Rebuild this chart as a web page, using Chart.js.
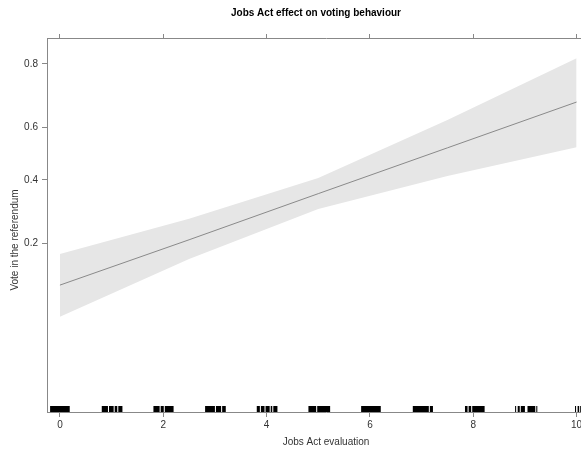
<!DOCTYPE html>
<html>
<head>
<meta charset="utf-8">
<script src="https://cdn.jsdelivr.net/npm/chart.js@4"></script>
<style>
  html, body { margin: 0; padding: 0; background: #fff; overflow: hidden; }
  #wrap { width: 632px; height: 450px; }
</style>
</head>
<body>
<div id="wrap"><canvas id="c" width="632" height="450"></canvas></div>
<script>
// ---- data ----
const xLevels   = [0, 2.5, 5, 7.5, 10];
const fitProb   = [0.116, 0.209, 0.350, 0.522, 0.689];
const lowerProb = [0.0745, 0.164, 0.298, 0.414, 0.524];
const upperProb = [0.175, 0.268, 0.407, 0.627, 0.813];
const yTickLabels = [0.2, 0.4, 0.6, 0.8];
const xTickLabels = [0, 2, 4, 6, 8, 10];
// rug: runs of observations (start, end) along the x axis
const rugRuns = [
  [-0.19, 0.19],
  [0.81, 0.93], [0.95, 1.04], [1.06, 1.11], [1.13, 1.21],
  [1.81, 1.93], [1.95, 2.01], [2.03, 2.20],
  [2.81, 3.00], [3.02, 3.12], [3.14, 3.21],
  [3.81, 3.87], [3.89, 3.96], [3.98, 4.06], [4.08, 4.11], [4.13, 4.21],
  [4.81, 4.96], [4.98, 5.23],
  [5.83, 6.21],
  [6.83, 7.14], [7.16, 7.22],
  [7.84, 7.89], [7.91, 7.96], [7.98, 8.22],
  [8.81, 8.83], [8.86, 8.90], [8.92, 9.00], [9.05, 9.20], [9.22, 9.24],
  [9.92, 9.93], [9.97, 9.99], [10.02, 10.05], [10.07, 10.09]
];
const titleText = 'Jobs Act effect on voting behaviour';
const xTitleText = 'Jobs Act evaluation';
const yTitleText = 'Vote in the referendum';

const logit = p => Math.log(p / (1 - p));
const Y_MIN = -3.99, Y_MAX = 1.784;
const X_MIN = -0.25, X_MAX = 10.55;
const rugY = Y_MIN + (3 / 374) * (Y_MAX - Y_MIN);

const pts = arr => xLevels.map((x, i) => ({ x: x, y: logit(arr[i]) }));
const rugData = [];
rugRuns.forEach(r => {
  rugData.push({ x: r[0], y: rugY });
  rugData.push({ x: r[1], y: rugY });
  rugData.push({ x: (r[1] + r[0]) / 2, y: null });
});

const FONT = "'Liberation Sans', Arial, Helvetica, sans-serif";
const AXIS = '#888888';
const xTicksFn = s => { s.ticks = xTickLabels.map(v => ({ value: v })); };

// y-axis title drawn beside the panel, as canvas text
const yTitlePlugin = {
  id: 'yTitle',
  afterDraw(chart) {
    const ctx = chart.ctx;
    ctx.save();
    ctx.translate(15, 240);
    ctx.rotate(-Math.PI / 2);
    ctx.font = "10px " + FONT;
    ctx.fillStyle = '#333';
    ctx.textAlign = 'center';
    ctx.textBaseline = 'middle';
    ctx.fillText(yTitleText, 0, 0);
    ctx.restore();
  }
};

new Chart(document.getElementById('c'), {
  type: 'line',
  data: {
    datasets: [
      { data: pts(lowerProb), borderWidth: 0, borderColor: 'rgba(0,0,0,0)', pointRadius: 0, fill: false, order: 3 },
      { data: pts(upperProb), borderWidth: 0, borderColor: 'rgba(0,0,0,0)', pointRadius: 0, fill: '-1', backgroundColor: '#e6e6e6', order: 2 },
      { data: pts(fitProb), borderWidth: 1, borderColor: '#8a8a8a', pointRadius: 0, fill: false, order: 1 },
      { data: rugData, borderWidth: 6, borderColor: '#000', borderCapStyle: 'butt', pointRadius: 0, fill: false, spanGaps: false, order: 0 }
    ]
  },
  plugins: [yTitlePlugin],
  options: {
    responsive: false,
    animation: false,
    events: [],
    layout: { padding: { left: 0, right: 0, top: 0, bottom: 0 } },
    plugins: {
      legend: { display: false },
      tooltip: { enabled: false },
      title: {
        display: true,
        text: titleText,
        color: '#000',
        font: { family: FONT, size: 10, weight: 'bold' },
        padding: { top: 7, bottom: 15 }
      }
    },
    scales: {
      x: {
        type: 'linear', position: 'bottom', min: X_MIN, max: X_MAX,
        afterBuildTicks: xTicksFn,
        afterFit: s => { s.height = 38; },
        grid: { display: true, drawOnChartArea: false, drawTicks: true, tickLength: 5, color: AXIS },
        border: { display: true, color: AXIS, width: 1 },
        ticks: { color: '#333', font: { family: FONT, size: 10 }, padding: 2, maxRotation: 0,
                 callback: v => String(v) },
        title: { display: true, text: xTitleText, color: '#333',
                 font: { family: FONT, size: 10 }, padding: { top: 2, bottom: 2 } }
      },
      x2: {
        type: 'linear', position: 'top', min: X_MIN, max: X_MAX,
        afterBuildTicks: xTicksFn,
        afterFit: s => { s.height = 4; },
        grid: { display: true, drawOnChartArea: false, drawTicks: true, tickLength: 4, color: AXIS },
        border: { display: true, color: AXIS, width: 1 },
        ticks: { display: false }
      },
      y: {
        type: 'linear', position: 'left', min: Y_MIN, max: Y_MAX,
        afterBuildTicks: s => { s.ticks = yTickLabels.map(p => ({ value: logit(p) })); },
        afterFit: s => { s.width = 47; },
        grid: { display: true, drawOnChartArea: false, drawTicks: true, tickLength: 5, color: AXIS },
        border: { display: true, color: AXIS, width: 1 },
        ticks: { color: '#333', font: { family: FONT, size: 10 }, padding: 4,
                 callback: (v, i) => String(yTickLabels[i]) }
      },
      y2: {
        type: 'linear', position: 'right', min: Y_MIN, max: Y_MAX,
        afterFit: s => { s.width = 27; },
        grid: { display: false },
        border: { display: true, color: AXIS, width: 1 },
        ticks: { display: false }
      }
    }
  }
});
</script>
</body>
</html>
